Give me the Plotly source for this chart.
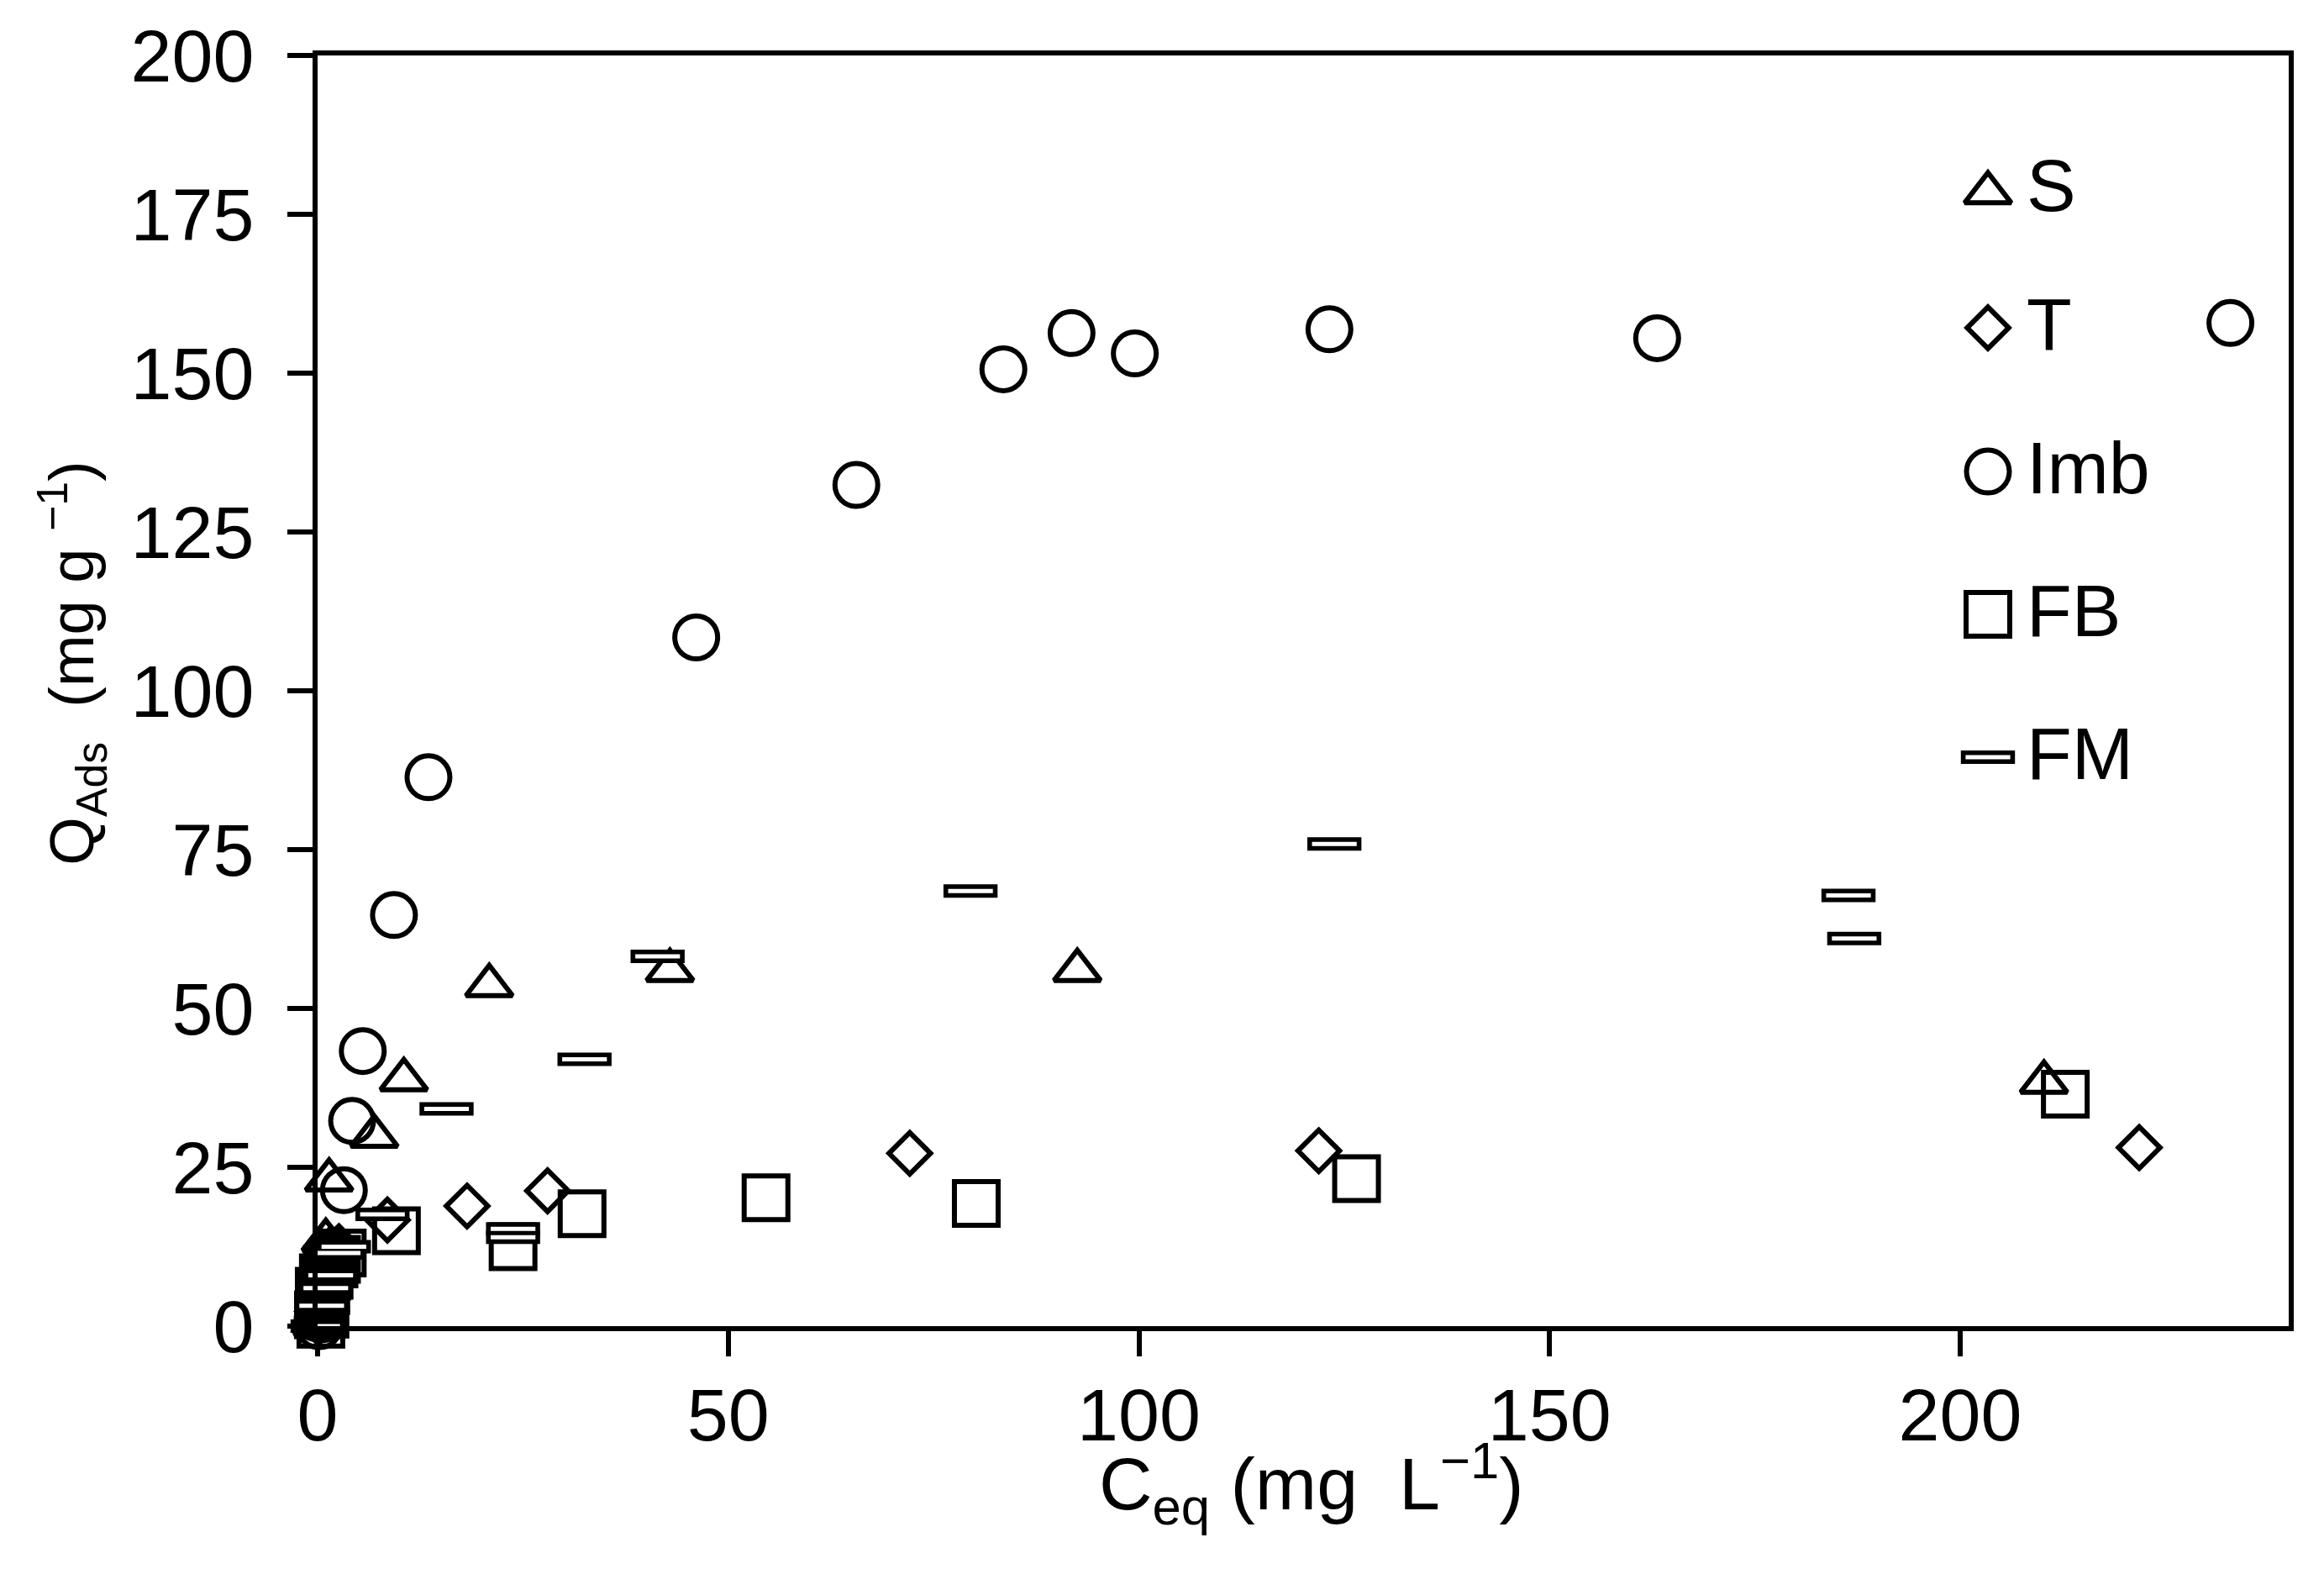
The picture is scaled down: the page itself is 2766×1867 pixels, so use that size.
import plotly.graph_objects as go

# ---------------- data ----------------
series_names = ["S", "T", "Imb", "FB", "FM"]

S_x = [0.0, 0.3, 0.6, 0.2, 0.9, 0.5, 1.2, 0.8, 1.5, 1.1, 1.8, 1.4, 1.0,
       1.4, 6.9, 10.5, 20.9, 42.9, 92.5, 210.2]
S_y = [0.2, 1.0, 2.0, 3.0, 3.8, 5.0, 6.0, 7.2, 8.2, 9.5, 10.8, 12.0, 13.5,
       23.0, 29.9, 38.8, 53.6, 56.0, 56.0, 38.4]

T_x = [0.1, 0.5, 0.0, 0.8, 0.3, 1.1, 0.6, 1.4, 1.0, 1.7, 1.3, 2.0, 2.6,
       8.5, 18.2, 28.0, 72.1, 121.9, 221.8]
T_y = [0.5, 1.4, 2.3, 2.8, 4.0, 4.8, 6.0, 7.0, 8.0, 9.0, 10.2, 11.2, 12.5,
       16.7, 18.9, 21.3, 27.2, 27.6, 28.1]

Imb_x = [0.2, 0.0, 0.7, 0.4, 1.0, 0.1, 0.8, 0.4, 1.2, 0.9, 1.6, 1.9,
         3.2, 4.2, 5.5, 9.3, 13.5, 46.1, 65.6, 83.5, 91.8, 99.5, 123.2, 163.1, 232.9]
Imb_y = [0.0, 1.2, 1.1, 2.6, 3.0, 4.4, 4.5, 6.5, 6.9, 8.8, 9.8, 11.5,
         21.4, 32.3, 43.3, 64.7, 86.4, 108.4, 132.4, 150.6, 156.3, 153.1, 156.9, 155.5, 157.9]

FB_x = [0.4, 0.1, 0.9, 0.6, 0.2, 1.0, 0.7, 1.4, 1.2, 2.0, 2.3, 3.0,
        9.6, 23.8, 32.2, 54.6, 80.2, 126.5, 212.8]
FB_y = [0.3, 1.8, 1.9, 3.4, 5.5, 5.6, 7.6, 8.0, 9.0, 9.8, 10.5, 11.5,
        15.0, 12.5, 17.7, 20.2, 19.3, 23.2, 36.5]

FM_x = [0.0, 0.5, 1.0, 1.6, 2.5, 3.2,
        7.9, 15.7, 23.8, 23.8, 32.5, 41.4, 79.5, 123.8, 186.4, 187.1]
FM_y = [0.0, 3.2, 6.0, 8.0, 11.5, 12.5,
        17.6, 34.2, 15.3, 14.0, 42.0, 58.2, 68.5, 75.9, 67.8, 61.0]

x_ticks = [0, 50, 100, 150, 200]
y_ticks = [0, 25, 50, 75, 100, 125, 150, 175, 200]

x_title = "C<sub>eq</sub> (mg\u00a0\u00a0L<sup>\u22121</sup>)"
y_title = "Q<sub>Ads</sub>\u00a0\u00a0(mg g\u00a0<sup>\u22121</sup>)"

# ---------------- styles ----------------
FONT = "Liberation Sans, Arial, sans-serif"
BLACK = "black"
LW = 6          # marker outline width
AXW = 6         # axis line width
W, H = 2766, 1867
ML, MR, MT, MB = 378, 42, 66, 289

marker_styles = {
    "S": dict(symbol="triangle-up-open", size=48),
    "T": dict(symbol="diamond-open", size=38),
    "Imb": dict(symbol="circle-open", size=51),
    "FB": dict(symbol="square-open", size=52),
}
FM_OUTER = dict(symbol="line-ew", size=46, width=16)
FM_INNER = dict(symbol="line-ew", size=38, width=5)

fig = go.Figure()

data = {"S": (S_x, S_y), "T": (T_x, T_y), "Imb": (Imb_x, Imb_y), "FB": (FB_x, FB_y)}


def add_markers(name, xs, ys, xaxis="x", yaxis="y"):
    st = marker_styles[name]
    fig.add_trace(go.Scatter(
        x=xs, y=ys, mode="markers", name=name, showlegend=False,
        xaxis=xaxis, yaxis=yaxis, cliponaxis=False,
        marker=dict(symbol=st["symbol"], size=st["size"], color=BLACK,
                    line=dict(color=BLACK, width=LW)),
    ))


def add_fm(xs, ys, xaxis="x", yaxis="y"):
    fig.add_trace(go.Scatter(
        x=xs, y=ys, mode="markers", name="FM", showlegend=False,
        xaxis=xaxis, yaxis=yaxis, cliponaxis=False,
        marker=dict(symbol=FM_OUTER["symbol"], size=FM_OUTER["size"],
                    line=dict(color=BLACK, width=FM_OUTER["width"])),
    ))
    fig.add_trace(go.Scatter(
        x=xs, y=ys, mode="markers", name="FM", showlegend=False,
        xaxis=xaxis, yaxis=yaxis, cliponaxis=False, hoverinfo="skip",
        marker=dict(symbol=FM_INNER["symbol"], size=FM_INNER["size"],
                    line=dict(color="white", width=FM_INNER["width"])),
    ))


for nm in ["S", "T", "Imb", "FB"]:
    add_markers(nm, *data[nm])
add_fm(FM_x, FM_y)

# ---------------- custom legend (overlay axes in 0..1 plot-area units) ----------------
LEG_MX = 0.8474
LEG_TX = 0.8662
LEG_Y = {"S": 0.892, "T": 0.7857, "Imb": 0.6726, "FB": 0.5602, "FM": 0.4478}

for nm in ["S", "T", "Imb", "FB"]:
    add_markers(nm, [LEG_MX], [LEG_Y[nm]], xaxis="x2", yaxis="y2")
add_fm([LEG_MX], [LEG_Y["FM"]], xaxis="x2", yaxis="y2")

annotations = []
for nm in series_names:
    annotations.append(dict(
        text=nm, xref="x2", yref="y2", x=LEG_TX, y=LEG_Y[nm] + (0.003 if nm != "S" else 0.006),
        xanchor="left", yanchor="middle", showarrow=False,
        font=dict(family=FONT, size=88, color=BLACK),
    ))

# axis titles
annotations.append(dict(
    text=x_title, xref="paper", yref="paper", x=0.504, y=-0.124,
    xanchor="center", yanchor="middle", showarrow=False,
    font=dict(family=FONT, size=88, color=BLACK),
))
annotations.append(dict(
    text=y_title, xref="paper", yref="paper", x=-0.1245, y=0.522,
    xanchor="center", yanchor="middle", showarrow=False, textangle=-90,
    font=dict(family=FONT, size=74, color=BLACK),
))

axis_common = dict(
    showline=True, linecolor=BLACK, linewidth=AXW, mirror=True,
    ticks="outside", ticklen=30, tickwidth=AXW, tickcolor=BLACK,
    showgrid=False, zeroline=False,
    tickfont=dict(family=FONT, size=88, color=BLACK),
)

fig.update_layout(
    width=W, height=H,
    margin=dict(l=ML, r=MR, t=MT, b=MB, pad=0),
    paper_bgcolor="white", plot_bgcolor="white",
    showlegend=False,
    xaxis=dict(range=[0, 240], tickvals=x_ticks, ticklabelstandoff=-6, **axis_common),
    yaxis=dict(range=[0, 200], tickvals=y_ticks, ticklabelstandoff=22, **axis_common),
    xaxis2=dict(range=[0, 1], overlaying="x", visible=False, fixedrange=True),
    yaxis2=dict(range=[0, 1], overlaying="y", visible=False, fixedrange=True),
    annotations=annotations,
    font=dict(family=FONT, color=BLACK),
)

fig.write_html("out.html", config={"displayModeBar": False},
               post_script="document.body.style.margin='0';")
